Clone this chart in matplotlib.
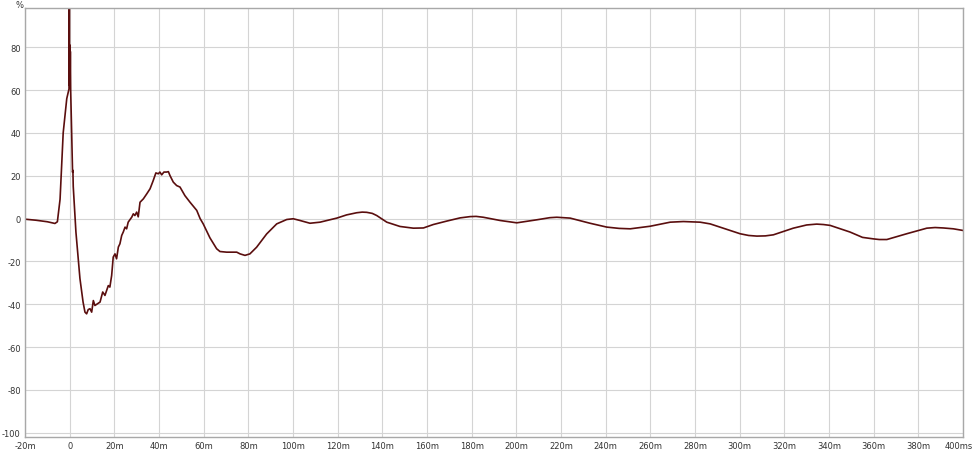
import matplotlib
matplotlib.use("Agg")
import matplotlib.pyplot as plt

# impulse response, time in ms, level in %
t_ms = [-20, -15, -10, -6.6, -5.5, -4.3, -2.9, -1.3, -0.3, -0.15, 0.0, 0.1, 0.2, 0.3, 0.45,
        1.0, 1.3, 1.45, 1.6, 2.8, 4.6, 6.0, 6.85, 7.6, 8.3, 9.1, 9.85, 10.6, 11.3, 13.6,
        14.8, 15.8, 17.3, 18.0, 18.8, 19.5, 20.3, 21.0, 21.8, 22.5, 23.3, 24.0, 24.8, 25.5,
        26.2, 27.8, 28.5, 29.2, 30.0, 30.7, 31.5, 33.0, 34.5, 36.0, 37.4, 38.6, 39.7, 40.4,
        41.2, 42.2, 43.4, 44.2, 44.9, 46.4, 47.9, 49.4, 51.6, 53.9, 56.9, 58.4, 59.8, 62.8,
        65.8, 67.3, 70.3, 74.8, 76.3, 78.5, 80.7, 83.7, 88.2, 92.7, 97.2, 100.1, 103.1,
        107.6, 112.1, 119.6, 124.0, 128.5, 131.0, 133.0, 135.5, 137.5, 142.0, 147.9, 153.9,
        158.4, 162.8, 168.8, 174.8, 179.3, 182.0, 185.2, 192.7, 200.2, 209.1, 215.0, 218.1,
        224.1, 233.0, 240.5, 246.0, 251.0, 259.9, 268.9, 274.8, 282.3, 286.8, 291.2, 300.2,
        304.0, 307.7, 311.5, 315.1, 324.0, 330.0, 334.5, 337.5, 340.5, 349.4, 355.0, 359.9,
        362.5, 365.9, 374.8, 383.8, 387.5, 391.2, 395.7, 400.2]
level = [-0.3, -0.8, -1.5, -2.3, -1.5, 9, 40, 56, 60.5, 100, 62, 81, 66, 78, 60,
         35, 21.6, 22.5, 15, -6.3, -28, -39, -43.7, -44.5, -42.5, -42.1, -43.7, -38.3, -40.6, -39.0,
         -34.3, -35.9, -31.3, -32.0, -26.6, -18.0, -16.5, -18.8, -13.3, -11.8, -7.9, -6.3, -4.0, -4.8,
         -1.7, 0.65, 2.2, 1.4, 3.0, 0.8, 7.6, 9.2, 11.5, 13.9, 17.7, 21.3, 20.9, 21.7,
         20.4, 21.7, 21.7, 21.9, 20.1, 17.0, 15.4, 14.7, 10.7, 7.6, 3.8, 0.0, -2.5, -9.0,
         -14.1, -15.4, -15.7, -15.7, -16.5, -17.2, -16.5, -13.4, -7.2, -2.5, -0.45, -0.1, -0.9,
         -2.2, -1.7, 0.2, 1.7, 2.7, 3.0, 2.9, 2.4, 1.4, -1.7, -3.7, -4.5,
         -4.4, -2.8, -1.2, 0.3, 0.9, 1.0, 0.6, -0.9, -2.0, -0.6, 0.4, 0.6,
         0.2, -2.2, -4.0, -4.6, -4.8, -3.6, -1.7, -1.4, -1.7, -2.5, -4.0, -7.1,
         -7.9, -8.2, -8.1, -7.6, -4.5, -3.0, -2.6, -2.8, -3.2, -6.3, -8.8, -9.5,
         -9.8, -9.8, -7.1, -4.5, -4.2, -4.4, -4.8, -5.6]

xticks = list(range(-20, 401, 20))
xlabels = ["-20m", "0"] + [f"{v}m" for v in range(20, 400, 20)] + ["400ms"]
yticks = list(range(-100, 81, 20))
ylabels = [str(v) for v in yticks]

fig = plt.figure(figsize=(9.75, 4.52), dpi=100)
ax = fig.add_axes([25 / 975, 14 / 452, 938 / 975, 429 / 452])

ax.plot(t_ms, level, color="#5a0e0e", linewidth=1.2, solid_joinstyle="round")

ax.set_xlim(-20, 400)
ax.set_ylim(-102, 98.3)
ax.set_xticks(xticks)
ax.set_xticklabels(xlabels)
ax.set_yticks(yticks)
ax.set_yticklabels(ylabels)
ax.grid(True, color="#d4d4d4", linewidth=0.8)
ax.set_axisbelow(True)
ax.tick_params(length=0, labelsize=6, colors="#333333", pad=3)
# last label sits against the right edge, as in the reference
ax.get_xticklabels()[-1].set_horizontalalignment("right")
ax.get_xticklabels()[-1].set_x(400)
for lbl in ax.get_xticklabels()[-1:]:
    lbl.set_transform(lbl.get_transform() + matplotlib.transforms.ScaledTranslation(10 / 100, 0, fig.dpi_scale_trans))
for s in ax.spines.values():
    s.set_color("#a8a8a8")
    s.set_linewidth(1.0)

fig.text(20 / 975, 1 - 5 / 452, "%", fontsize=6, color="#333333", ha="center", va="center")

fig.savefig("out.png", dpi=100)
